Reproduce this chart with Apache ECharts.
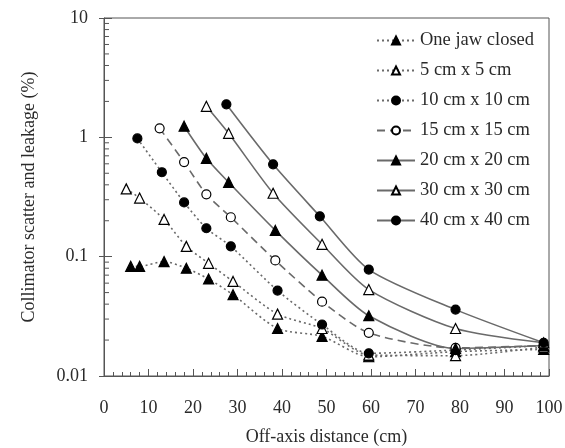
<!DOCTYPE html>
<html><head><meta charset="utf-8">
<script src="https://cdn.jsdelivr.net/npm/echarts@6/dist/echarts.min.js"></script>
<style>html,body{margin:0;padding:0;background:#fff}#c{width:565px;height:448px}</style>
</head><body><div id="c"></div>
<script>
// ---- data ----
const seriesNames = ['One jaw closed','5 cm x 5 cm','10 cm x 10 cm','15 cm x 15 cm','20 cm x 20 cm','30 cm x 30 cm','40 cm x 40 cm'];
const xOneJaw = [6, 8, 13.5, 18.5, 23.5, 29, 39, 49, 59.5, 79, 98.8];
const yOneJaw = [0.083, 0.083, 0.091, 0.080, 0.065, 0.048, 0.025, 0.0215, 0.0145, 0.016, 0.0167];
const x5 = [5, 8, 13.5, 18.5, 23.5, 29, 39, 49, 59.5, 79, 98.8];
const y5 = [0.37, 0.31, 0.205, 0.122, 0.088, 0.062, 0.033, 0.025, 0.015, 0.0148, 0.0175];
const x10 = [7.5, 13, 18, 23, 28.5, 39, 49, 59.5, 79, 98.8];
const y10 = [0.98, 0.51, 0.285, 0.173, 0.122, 0.052, 0.027, 0.0155, 0.0165, 0.018];
const x15 = [12.5, 18, 23, 28.5, 38.5, 49, 59.5, 79, 98.8];
const y15 = [1.19, 0.62, 0.333, 0.214, 0.093, 0.042, 0.023, 0.0172, 0.018];
const x20 = [18, 23, 28, 38.5, 49, 59.5, 79, 98.8];
const y20 = [1.24, 0.667, 0.42, 0.166, 0.07, 0.032, 0.017, 0.018];
const x30 = [23, 28, 38, 49, 59.5, 79, 98.8];
const y30 = [1.82, 1.08, 0.34, 0.127, 0.053, 0.025, 0.019];
const x40 = [27.5, 38, 48.5, 59.5, 79, 98.8];
const y40 = [1.89, 0.594, 0.218, 0.078, 0.036, 0.019];
const xTickLabels = ['0','10','20','30','40','50','60','70','80','90','100'];
const yTickLabels = {0.01:'0.01', 0.1:'0.1', 1:'1', 10:'10'};

const FONT = 'Liberation Serif';
const TXT = '#2a2a2a';
const AX = '#555';
const LINE = '#6a6a6a';

function pairs(xs, ys){ return xs.map((x,i)=>[x, ys[i]]); }

const styles = [
  {sym:'triangle', fill:'#000', type:[2,3]},
  {sym:'triangle', fill:'#fff', type:[2,3]},
  {sym:'circle',   fill:'#000', type:[2,3]},
  {sym:'circle',   fill:'#fff', type:[8,5]},
  {sym:'triangle', fill:'#000', type:'solid'},
  {sym:'triangle', fill:'#fff', type:'solid'},
  {sym:'circle',   fill:'#000', type:'solid'}
];
const xsAll = [xOneJaw, x5, x10, x15, x20, x30, x40];
const ysAll = [yOneJaw, y5, y10, y15, y20, y30, y40];

const series = seriesNames.map((name, i) => ({
  name, type:'line', xAxisIndex:0, yAxisIndex:0,
  data: pairs(xsAll[i], ysAll[i]),
  symbol: styles[i].sym,
  symbolSize: styles[i].sym === 'circle' ? 9 : 10,
  smooth: 0.25,
  lineStyle:{color:LINE, width:1.6, type:styles[i].type},
  itemStyle:{color:styles[i].fill, borderColor:'#000', borderWidth:1.2},
  z: 3
}));

// minor log ticks on the left axis
const minorVals = [];
[0.01, 0.1, 1].forEach(d => { for (let k = 2; k <= 9; k++) minorVals.push(+(d*k).toPrecision(3)); });
series.push({
  type:'custom', silent:true, clip:false, z:5,
  data: minorVals.map(v => [0, v]),
  renderItem: (params, api) => {
    const p = api.coord([0, api.value(1)]);
    return {type:'line', shape:{x1:p[0], y1:p[1], x2:p[0]+5, y2:p[1]}, style:{stroke:AX, lineWidth:1}};
  }
});

const chart = echarts.init(document.getElementById('c'), null, {renderer:'canvas'});
chart.setOption({
  animation:false,
  backgroundColor:'#fff',
  grid:{left:104, right:16, top:18, bottom:72, show:true, borderColor:AX, borderWidth:1,
        containLabel:false, outerBoundsMode:'none'},
  legend:{
    orient:'vertical', left:371, top:26,
    data: seriesNames,
    itemWidth:38, itemHeight:10, itemGap:11,
    textStyle:{fontFamily:FONT, fontSize:18.5, color:TXT, lineHeight:18}
  },
  xAxis:[{
    type:'value', min:0, max:100, interval:10,
    axisLine:{lineStyle:{color:AX, width:1}},
    axisTick:{inside:true, length:7, lineStyle:{color:AX}},
    minorTick:{show:true, splitNumber:5, length:4, lineStyle:{color:AX}},
    splitLine:{show:false},
    axisLabel:{fontFamily:FONT, fontSize:18, color:TXT, margin:23,
      formatter: v => xTickLabels[Math.round(v/10)]},
    name:'Off-axis distance (cm)', nameLocation:'middle', nameGap:52,
    nameTextStyle:{fontFamily:FONT, fontSize:18, color:TXT}
  }],
  yAxis:[{
    type:'log', logBase:10, min:0.01, max:10,
    axisLine:{lineStyle:{color:AX, width:1}},
    axisTick:{inside:true, length:8, lineStyle:{color:AX}},
    splitLine:{show:false},
    axisLabel:{fontFamily:FONT, fontSize:18, color:TXT, margin:16,
      formatter: v => yTickLabels[v] !== undefined ? yTickLabels[v] : String(v)},
    name:'Collimator scatter and leakage (%)', nameLocation:'middle', nameGap:66,
    nameTextStyle:{fontFamily:FONT, fontSize:18, color:TXT}
  },{
    type:'log', logBase:10, min:0.01, max:10, position:'left',
    axisLine:{show:false},
    axisTick:{inside:false, length:5, lineStyle:{color:AX}},
    axisLabel:{show:false}, splitLine:{show:false}
  }],
  series
});
</script></body></html>
